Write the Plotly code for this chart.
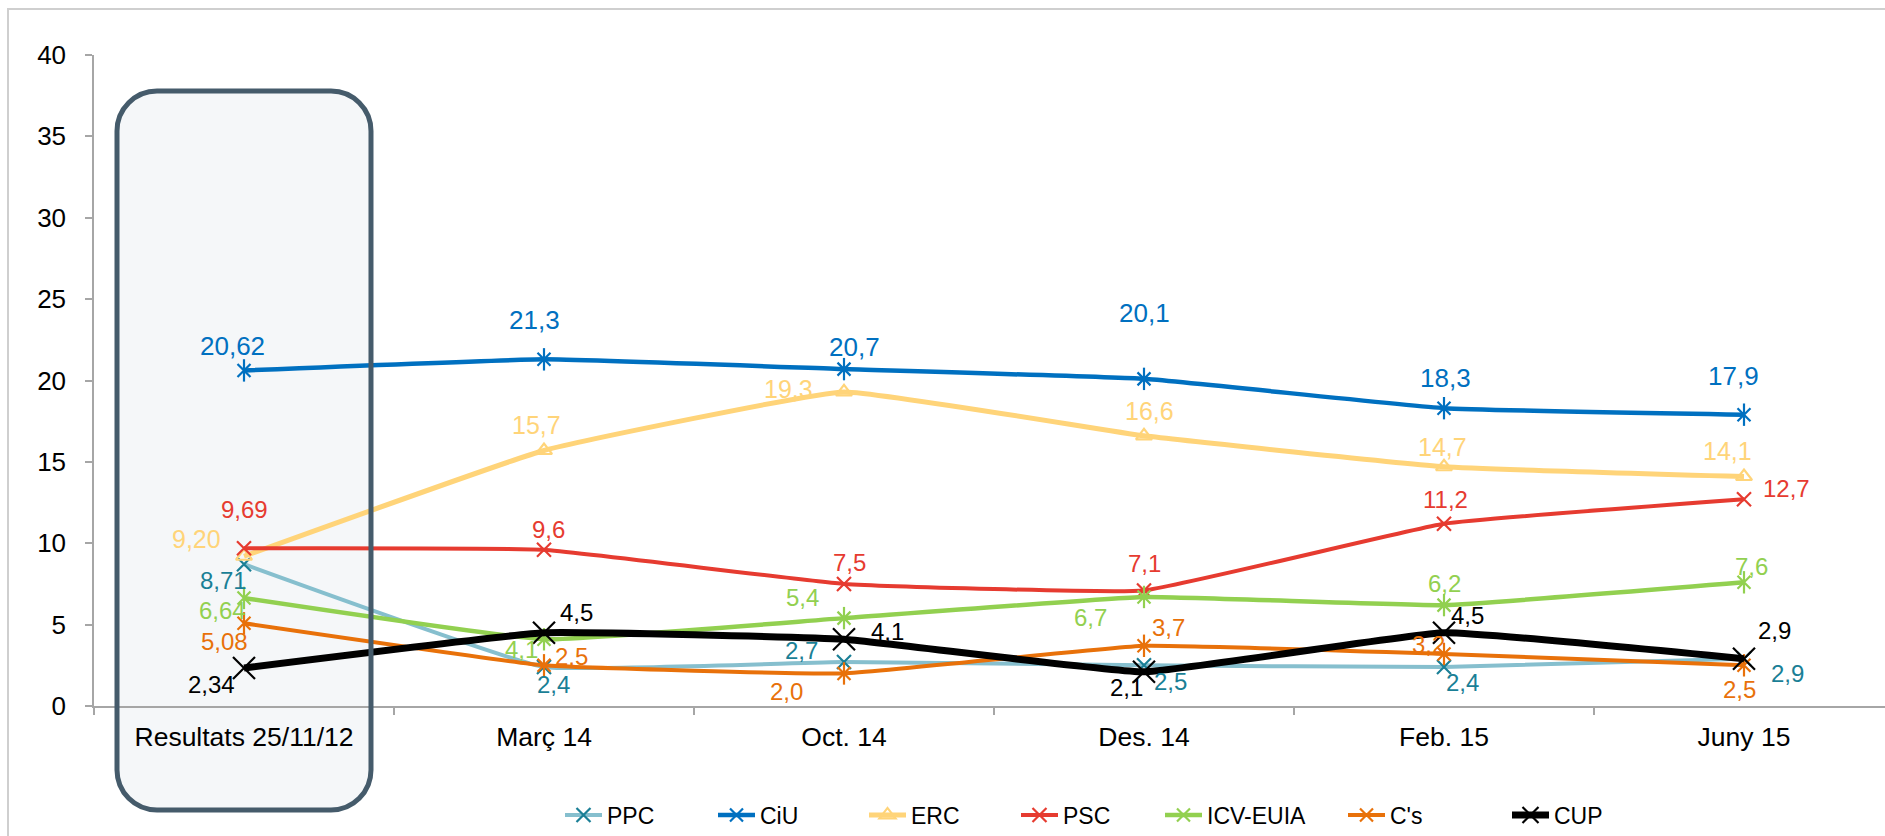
import plotly.graph_objects as go

# ---- data -------------------------------------------------------------
categories = ["Resultats 25/11/12", "Març 14", "Oct. 14", "Des. 14", "Feb. 15", "Juny 15"]
ppc = [8.71, 2.4, 2.7, 2.5, 2.4, 2.9]
ciu = [20.62, 21.3, 20.7, 20.1, 18.3, 17.9]
erc = [9.20, 15.7, 19.3, 16.6, 14.7, 14.1]
psc = [9.69, 9.6, 7.5, 7.1, 11.2, 12.7]
icv = [6.64, 4.1, 5.4, 6.7, 6.2, 7.6]
cs = [5.08, 2.5, 2.0, 3.7, 3.2, 2.5]
cup = [2.34, 4.5, 4.1, 2.1, 4.5, 2.9]
y_ticks = [0, 5, 10, 15, 20, 25, 30, 35, 40]

# ---- styling ----------------------------------------------------------
FONT = "Arial, Liberation Sans, sans-serif"
W, H = 1885, 836
ML, MR, MT, MB = 94, 0, 55, 130
PW, PH = W - ML - MR, H - MT - MB

# label offsets in px (dx right, dy down) for each point
series = [
    dict(name="PPC", y=ppc, line="#86BFCE", mark="#1A7F96", text="#1A7F96", lw=4,
         sym="x-thin", size=14, star=False, fs=24, legw=101,
         off=[(-21, 16), (9, 18), (-43, -12), (26, 16), (18, 16), (43, 15)]),
    dict(name="CiU", y=ciu, line="#0070C0", mark="#0070C0", text="#0070C0", lw=4.5,
         sym="x-thin", size=13, star=True, fs=26, legw=99,
         off=[(-12, -24), (-10, -39), (10, -22), (0, -66), (1, -30), (-11, -39)]),
    dict(name="ERC", y=erc, line="#FFD479", mark="#FFD479", text="#FFD479", lw=5,
         sym="triangle-up-open", size=14, star=False, fs=25, legw=100,
         off=[(-48, -17), (-8, -25), (-56, -3), (5, -25), (-2, -20), (-17, -26)]),
    dict(name="PSC", y=psc, line="#E63B30", mark="#E63B30", text="#E63B30", lw=4,
         sym="x-thin", size=14, star=False, fs=24, legw=92,
         off=[(0, -39), (4, -20), (5, -21), (0, -27), (1, -24), (42, -11)]),
    dict(name="ICV-EUIA", y=icv, line="#92D050", mark="#92D050", text="#92D050", lw=4.5,
         sym="x-thin", size=13, star=True, fs=24, legw=131,
         off=[(-22, 13), (-23, 10), (-42, -21), (-54, 21), (0, -22), (7, -16)]),
    dict(name="C's", y=cs, line="#E8710A", mark="#E8710A", text="#E8710A", lw=4,
         sym="x-thin", size=13, star=True, fs=24, legw=112,
         off=[(-20, 18), (27, -9), (-58, 18), (24, -18), (-16, -9), (-5, 24)]),
    dict(name="CUP", y=cup, line="#000000", mark="#000000", text="#000000", lw=7,
         sym="x-thin", size=22, star=False, fs=24, legw=80,
         off=[(-33, 17), (32, -20), (43, -8), (-18, 16), (23, -17), (30, -28)]),
]


def fmt(v, i):
    s = f"{v:.2f}" if i == 0 else f"{v:.1f}"
    return s.replace(".", ",")


fig = go.Figure()
annotations = []
for s in series:
    fig.add_trace(go.Scatter(
        x=categories, y=s["y"], name=s["name"], mode="lines+markers",
        line=dict(color=s["line"], width=s["lw"], shape="spline", smoothing=0.3),
        marker=dict(symbol=s["sym"], size=s["size"], color=s["mark"],
                    line=dict(color=s["mark"], width=2.2)),
        legendwidth=s["legw"],
    ))
    if s["star"]:
        # vertical stroke completing the six-armed star marker
        fig.add_trace(go.Scatter(
            x=categories, y=s["y"], mode="markers", showlegend=False,
            marker=dict(symbol="line-ns", size=s["size"] + 3, color=s["mark"],
                        line=dict(color=s["mark"], width=2.2)),
        ))
    for i, (c, v) in enumerate(zip(categories, s["y"])):
        dx, dy = s["off"][i]
        annotations.append(dict(
            x=c, y=v, xref="x", yref="y", text=fmt(v, i), showarrow=False,
            xshift=dx, yshift=-dy, font=dict(family=FONT, size=s["fs"], color=s["text"]),
        ))


def px(xp):
    return (xp - ML) / PW


def py(yp):
    return (MT + PH - yp) / PH


def rounded_path(x0, y0, x1, y1, r):
    k = 0.5523 * r
    pts = [
        ("M", [(x0 + r, y0)]),
        ("L", [(x1 - r, y0)]),
        ("C", [(x1 - r + k, y0), (x1, y0 + r - k), (x1, y0 + r)]),
        ("L", [(x1, y1 - r)]),
        ("C", [(x1, y1 - r + k), (x1 - r + k, y1), (x1 - r, y1)]),
        ("L", [(x0 + r, y1)]),
        ("C", [(x0 + r - k, y1), (x0, y1 - r + k), (x0, y1 - r)]),
        ("L", [(x0, y0 + r)]),
        ("C", [(x0, y0 + r - k), (x0 + r - k, y0), (x0 + r, y0)]),
    ]
    out = []
    for cmd, ps in pts:
        out.append(cmd + " ".join(f"{px(a):.5f},{py(b):.5f}" for a, b in ps))
    return " ".join(out) + " Z"


box = rounded_path(117, 91, 371, 810, 40)
shapes = [
    # outer frame
    dict(type="rect", xref="paper", yref="paper", x0=px(8), y0=py(9), x1=px(1905), y1=py(860),
         line=dict(color="#CFCFCF", width=2), fillcolor="rgba(0,0,0,0)", layer="below"),
    # highlight box for the election results column
    dict(type="path", xref="paper", yref="paper", path=box, fillcolor="#F5F7F9",
         line=dict(width=0), layer="below"),
    dict(type="path", xref="paper", yref="paper", path=box, fillcolor="rgba(0,0,0,0)",
         line=dict(color="#455B6B", width=5), layer="above"),
]

axis_col = "#A6A6A6"
fig.update_layout(
    width=W, height=H,
    margin=dict(l=ML, r=MR, t=MT, b=MB, pad=0, autoexpand=False),
    paper_bgcolor="white", plot_bgcolor="rgba(0,0,0,0)",
    font=dict(family=FONT, color="#000000"),
    hovermode=False,
    showlegend=True,
    legend=dict(orientation="h", x=px(560), xanchor="left", y=py(815), yanchor="middle",
                font=dict(family=FONT, size=23, color="#000000"),
                itemwidth=37, bgcolor="rgba(0,0,0,0)", traceorder="normal"),
    annotations=annotations,
    shapes=shapes,
)
fig.update_xaxes(
    type="category", categoryorder="array", categoryarray=categories,
    range=[-0.5, -0.5 + PW / 300.0], automargin=False,
    showline=True, linecolor=axis_col, linewidth=1.5,
    ticks="outside", ticklen=7, tickwidth=1.5, tickcolor=axis_col, tickson="boundaries",
    showgrid=False, zeroline=False, ticklabelstandoff=6,
    tickfont=dict(family=FONT, size=26.5, color="#000000"),
)
fig.update_yaxes(
    range=[0, 40], tickvals=y_ticks, ticktext=[str(t) for t in y_ticks], automargin=False,
    showline=True, linecolor=axis_col, linewidth=1.5,
    ticks="outside", ticklen=7, tickwidth=1.5, tickcolor=axis_col,
    showgrid=False, zeroline=False, ticklabelstandoff=14,
    tickfont=dict(family=FONT, size=26, color="#000000"),
)

fig.write_html("out.html")
